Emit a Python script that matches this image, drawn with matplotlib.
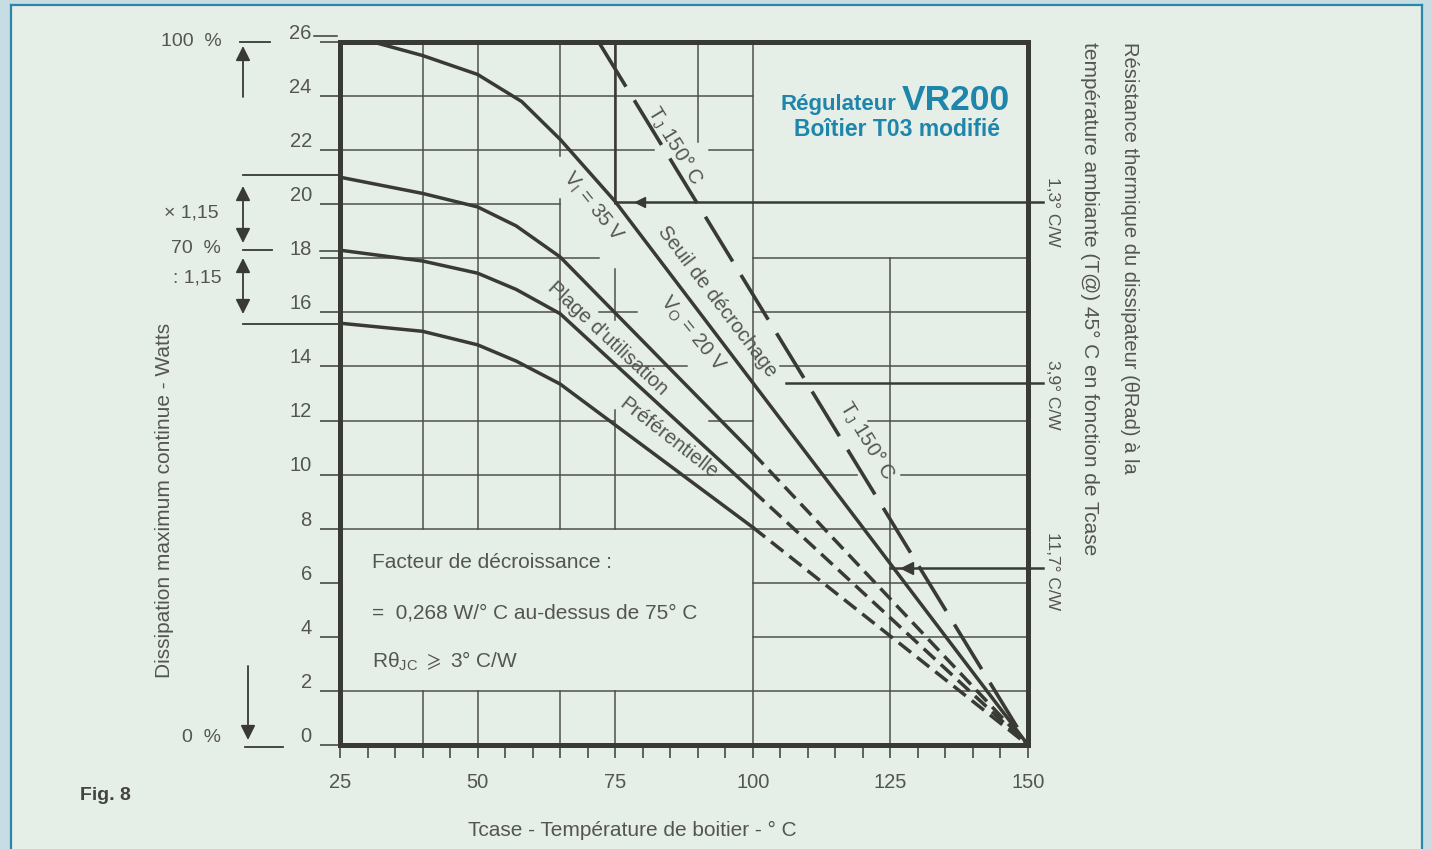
import matplotlib.pyplot as plt
from matplotlib.patches import Rectangle, FancyArrowPatch
from matplotlib.lines import Line2D

plt.rcParams['font.family'] = ['Liberation Sans', 'DejaVu Sans']
plt.rcParams['mathtext.fontset'] = 'custom'
plt.rcParams['mathtext.rm'] = 'Liberation Sans'
plt.rcParams['mathtext.it'] = 'Liberation Sans:italic'
plt.rcParams['mathtext.bf'] = 'Liberation Sans:bold'
plt.rcParams['mathtext.fallback'] = 'stix'

# --- values (Tcase in deg C, power in W) ---
t_seuil = [31, 40, 50, 58, 65, 75, 150]
p_seuil = [26.0, 25.5, 24.8, 23.8, 22.4, 20.1, 0.0]
t_curve = [25, 40, 50, 57, 65, 100]
p_vo = [21.0, 20.4, 19.9, 19.2, 18.05, 10.8]
p_plage = [18.3, 17.9, 17.45, 16.85, 15.95, 9.4]
p_pref = [15.6, 15.3, 14.8, 14.2, 13.35, 8.05]
t_zero = 150
t_tj = [72, 150]
p_tj = [26, 0]
rth_labels = ['1,3° C/W', '3,9° C/W', '11,7° C/W']
rth_power = [20.1, 13.37, 6.56]
rth_tstart = [75, 106, 125]
x_major = [25, 50, 75, 100, 125, 150]
x_minor = list(range(25, 151, 5))
y_major = list(range(0, 27, 2))

# partial grid of the original drawing: (value, from, to)
h_grid = [(24, 25, 100), (22, 25, 82), (22, 92, 100), (20, 25, 65),
          (18, 25, 72), (18, 100, 150), (16, 25, 65), (16, 72, 79), (16, 100, 150),
          (14, 25, 88), (14, 105, 150), (12, 25, 75), (12, 92, 100), (12, 121, 150),
          (10, 25, 119), (10, 127, 150), (8, 25, 150), (6, 100, 150), (4, 100, 150),
          (2, 25, 150)]
v_grid = [(40, 8, 26), (40, 0, 2), (50, 8, 26), (50, 0, 2),
          (65, 21.8, 26), (65, 8, 20.2), (65, 0, 2),
          (75, 20, 26), (75, 15.7, 17.6), (75, 8, 12.4), (75, 0, 2),
          (90, 22.3, 26), (100, 0, 26), (125, 0, 18)]

BG = '#e6eee8'
FRAME = '#2b87a9'
LINE = '#3a3a34'
GRID = '#4f4f49'
TXT = '#55554f'
BLUE = '#1e85ab'
W, H = 1432, 849


def fp(x, y):
    return x / W, 1 - y / H


def fig_line(x0, y0, x1, y1, lw=1.3, color=LINE):
    (a, b), (c, d) = fp(x0, y0), fp(x1, y1)
    fig.add_artist(Line2D([a, c], [b, d], transform=fig.transFigure, lw=lw, color=color))


def fig_arrow(x0, y0, x1, y1, style='-|>'):
    fig.add_artist(FancyArrowPatch(fp(x0, y0), fp(x1, y1), transform=fig.transFigure,
                                   arrowstyle=style, mutation_scale=22, lw=1.3,
                                   color=LINE, shrinkA=0, shrinkB=0))


fig = plt.figure(figsize=(W / 100, H / 100), dpi=100)
fig.patch.set_facecolor('#c6dde4')
fig.add_artist(Rectangle(fp(11, 849), 1411 / W, 844 / H, transform=fig.transFigure,
                         facecolor=BG, edgecolor='none', zorder=-10))
fig_line(11, 849, 11, 5, lw=1.6, color=FRAME)
fig_line(11, 5, 1422, 5, lw=1.6, color=FRAME)
fig_line(1422, 5, 1422, 849, lw=1.6, color=FRAME)

ax = fig.add_axes([340 / W, 1 - 745 / H, 688 / W, 703 / H])
ax.set_facecolor(BG)
ax.set_xlim(25, 150)
ax.set_ylim(0, 26)

for p, a, b in h_grid:
    ax.plot([a, b], [p, p], color=GRID, lw=1.1)
for t, a, b in v_grid:
    ax.plot([t, t], [a, b], color=GRID, lw=1.1)

# curves
ax.plot(t_seuil, p_seuil, color=LINE, lw=2.5, solid_capstyle='butt')
for pc in [p_vo, p_plage, p_pref]:
    ax.plot(t_curve, pc, color=LINE, lw=2.5)
    ax.plot([t_curve[-1], t_zero], [pc[-1], 0], color=LINE, lw=2.5,
            linestyle=(0, (4.5, 2.2)))
ax.plot(t_tj, p_tj, color=LINE, lw=2.6, linestyle=(0, (14.5, 4.4)))

# heat-sink pointer lines
for p, t0 in zip(rth_power, rth_tstart):
    ax.plot([t0, 152.8], [p, p], color=LINE, lw=1.8, clip_on=False)
ax.plot([75, 75], [20.1, 26], color=LINE, lw=1.8)
ax.plot(79.5, 20.1, marker='<', ms=7, color=LINE)
ax.plot(128, 6.56, marker='<', ms=8, color=LINE)

for s in ax.spines.values():
    s.set_linewidth(3.6)
    s.set_color(LINE)

ax.set_xticks(x_major)
ax.set_xticks(x_minor, minor=True)
ax.set_xticklabels([str(v) for v in x_major])
ax.tick_params(axis='x', which='both', direction='out', length=9, width=1.1,
               color=LINE, pad=11, labelsize=14.5, labelcolor=TXT)
ax.set_yticks(y_major)
ax.set_yticklabels([])
ax.tick_params(axis='y', direction='out', length=14.5, width=1.1, color=LINE)
for p in y_major:
    ax.text(-0.041, p + 0.32, str(p), transform=ax.get_yaxis_transform(),
            ha='right', va='center', fontsize=14.5, color=TXT)
# doubled ticks at 26 and 18
ax.plot([-0.038, -0.004], [26.22, 26.22], transform=ax.get_yaxis_transform(),
        color=LINE, lw=1.1, clip_on=False)
ax.plot([-0.029, 0], [18.28, 18.28], transform=ax.get_yaxis_transform(),
        color=LINE, lw=1.1, clip_on=False)

# curve labels
lab = dict(fontsize=14.5, color=TXT, ha='center', va='center', rotation_mode='anchor')
ax.text(85.9, 22.15, 'T$_\\mathrm{J}$ 150° C', rotation=-58.6, **lab)
ax.text(120.8, 11.25, 'T$_\\mathrm{J}$ 150° C', rotation=-58.6, **lab)
ax.text(93.5, 16.4, 'Seuil de décrochage', rotation=-52.8, **lab)
ax.text(71.0, 19.9, 'V$_\\mathrm{I}$ = 35 V', rotation=-51, **lab)
ax.text(89.0, 15.2, 'V$_\\mathrm{O}$ = 20 V', rotation=-51, **lab)
ax.text(73.7, 15.05, "Plage d'utilisation", rotation=-43, **lab)
ax.text(84.8, 11.35, 'Préférentielle', rotation=-38, **lab)

# derating note
note = dict(fontsize=15, color=TXT, ha='left', va='center')
ax.text(30.8, 6.75, 'Facteur de décroissance :', **note)
ax.text(30.8, 4.9, '=  0,268 W/° C au-dessus de 75° C', **note)
ax.text(30.8, 3.1, 'Rθ$_\\mathrm{JC}$ $\\geqslant$ 3° C/W', **note)

# title block
fig.text(*fp(896, 110), 'Régulateur', fontsize=16, fontweight='bold', color=BLUE,
         ha='right', va='baseline')
fig.text(*fp(902, 110), 'VR200', fontsize=25.5, fontweight='bold', color=BLUE,
         ha='left', va='baseline')
fig.text(*fp(897, 136), 'Boîtier T03 modifié', fontsize=16.5, fontweight='bold',
         color=BLUE, ha='center', va='baseline')

# left margin annotations
side = dict(fontsize=14, color=TXT, va='center')
fig.text(*fp(222, 42), '100  %', ha='right', **side)
fig_line(240, 42, 270, 42)
fig_arrow(243, 97, 243, 46)
fig_line(243, 175, 340, 175)
fig_arrow(243, 186, 243, 243, style='<|-|>')
fig.text(*fp(219, 213), '× 1,15', ha='right', **side)
fig.text(*fp(221, 248), '70  %', ha='right', **side)
fig_line(243, 250, 272, 250)
fig_arrow(243, 258, 243, 314, style='<|-|>')
fig.text(*fp(222, 278), ': 1,15', ha='right', **side)
fig_line(243, 324, 340, 324)
fig.text(*fp(221, 737), '0  %', ha='right', **side)
fig_arrow(248, 666, 248, 740)
fig_line(245, 747, 283, 747)

fig.text(*fp(165, 500), 'Dissipation maximum continue - Watts', rotation=90,
         fontsize=15, color=TXT, ha='center', va='center')
fig.text(*fp(632, 830), 'Tcase - Température de boitier - ° C', fontsize=15,
         color=TXT, ha='center', va='center')
fig.text(*fp(80, 796), 'Fig. 8', fontsize=14, fontweight='bold', color='#44443f',
         ha='left', va='center')

# right side
fig.text(*fp(1130, 42), 'Résistance thermique du dissipateur (θRad) à la', rotation=-90,
         fontsize=14.5, color=TXT, ha='center', va='top')
fig.text(*fp(1090, 42), 'température ambiante (T@) 45° C en fonction de Tcase',
         rotation=-90, fontsize=15, color=TXT, ha='center', va='top')
for lbl, yc in zip(rth_labels, [212, 395, 571]):
    fig.text(*fp(1052, yc), lbl, rotation=-90, fontsize=12.5, color=TXT,
             ha='center', va='center')

fig.savefig('out.png', dpi=100, facecolor=fig.get_facecolor())
